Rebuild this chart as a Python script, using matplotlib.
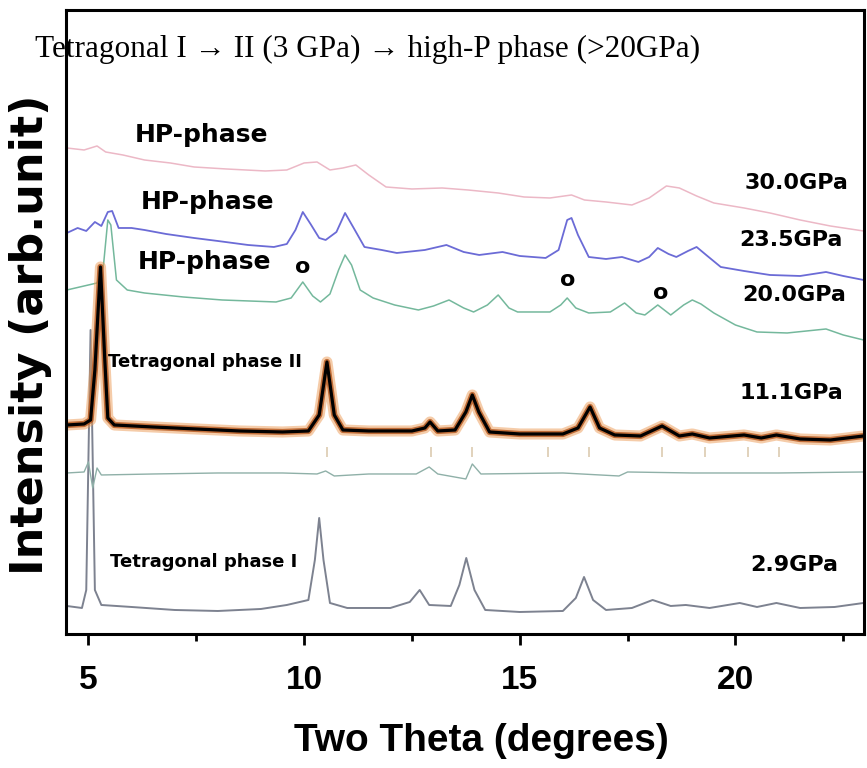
import matplotlib
matplotlib.use("Agg")
import matplotlib.pyplot as plt
import numpy as np

# two theta (deg) / intensity (arb.)
x_30 = [4.5, 4.9, 5.2, 5.4, 5.8, 6.3, 6.9, 7.45, 8.2, 9.1, 9.6, 10.0, 10.3, 10.6, 10.9, 11.2,
        11.5, 11.9, 12.5, 13.2, 13.8, 14.5, 15.1, 15.7, 16.2, 16.5, 17.0, 17.6, 18.0, 18.4,
        18.7, 19.1, 19.5, 20.2, 20.8, 21.5, 22.2, 22.97]
y_30 = [486, 484, 488, 482, 479, 474, 471, 467, 465, 463, 464, 471, 472, 464, 466, 469,
        459, 447, 445, 446, 444, 441, 437, 436, 439, 434, 432, 429, 436, 448,
        446, 438, 431, 426, 421, 414, 408, 403]

x_235 = [4.5, 4.75, 4.95, 5.15, 5.3, 5.45, 5.55, 5.7, 6.0, 6.3, 6.8, 7.45, 8.0, 8.7, 9.3, 9.6,
         9.8, 9.97, 10.15, 10.35, 10.5, 10.75, 10.95, 11.15, 11.4, 11.8, 12.15, 12.8, 13.3,
         13.7, 14.06, 14.6, 15.0, 15.6, 15.9, 16.1, 16.2, 16.35, 16.6, 17.0, 17.37, 17.75,
         18.0, 18.2, 18.45, 18.63, 18.9, 19.1, 19.35, 19.66, 20.2, 20.8, 21.5, 22.1, 22.5, 22.97]
y_235 = [401, 406, 403, 412, 408, 422, 423, 406, 406, 404, 400, 396, 393, 389, 387, 390,
         404, 422, 410, 396, 394, 402, 421, 406, 387, 384, 381, 384, 389,
         382, 379, 382, 378, 376, 384, 414, 416, 399, 377, 375, 377, 372,
         377, 386, 380, 377, 383, 387, 378, 367, 363, 359, 358, 362, 358, 354]

x_20 = [4.5, 4.9, 5.2, 5.35, 5.45, 5.52, 5.65, 5.9, 6.3, 7.2, 8.1, 9.35, 9.7, 9.97, 10.2,
        10.38, 10.6, 10.8, 10.95, 11.1, 11.3, 11.6, 12.1, 12.65, 13.0, 13.36, 13.7, 13.93,
        14.25, 14.5, 14.75, 14.95, 15.7, 15.95, 16.1, 16.3, 16.6, 17.1, 17.43, 17.7, 17.9,
        18.2, 18.5, 18.8, 19.0, 19.2, 19.5, 20.0, 20.5, 21.2, 22.1, 22.5, 22.97]
y_20 = [344, 348, 351, 369, 414, 409, 354, 344, 341, 337, 334, 332, 336, 352, 338,
        332, 340, 364, 379, 369, 344, 336, 329, 324, 328, 334, 326, 322,
        329, 339, 326, 322, 322, 329, 336, 326, 321, 322, 331, 321, 319,
        329, 319, 329, 334, 330, 321, 309, 302, 301, 305, 299, 294]

x_111 = [4.5, 4.9, 5.05, 5.15, 5.28, 5.38, 5.45, 5.6, 6.5, 7.5, 8.5, 9.5, 10.1, 10.35, 10.53,
         10.7, 10.9, 11.5, 12.5, 12.8, 12.92, 13.1, 13.5, 13.75, 13.9, 14.05, 14.3, 15.0,
         16.0, 16.35, 16.63, 16.85, 17.2, 17.8, 18.3, 18.7, 19.0, 19.4, 20.2, 20.6, 20.95,
         21.5, 22.2, 22.97]
y_111 = [209, 210, 214, 264, 367, 274, 216, 209, 207, 205, 203, 202, 203, 219, 272,
         219, 204, 203, 203, 206, 212, 203, 204, 222, 239, 222, 202, 200,
         200, 206, 227, 206, 199, 198, 208, 198, 200, 196, 199, 196, 199,
         195, 194, 198]

x_diff = [4.5, 4.9, 5.0, 5.1, 5.2, 5.3, 6.5, 8.0, 9.5, 10.3, 10.5, 10.7, 11.5, 12.6, 12.9,
          13.1, 13.75, 13.9, 14.1, 16.0, 17.3, 17.5, 19.0, 21.0, 22.97]
y_diff = [161, 162, 172, 146, 166, 159, 160, 161, 161, 160, 163, 158, 160, 160, 167,
          160, 155, 170, 160, 161, 158, 162, 161, 161, 162]

# reflection positions of tetragonal phase II
refl_111 = [10.53, 12.95, 13.9, 15.65, 16.6, 18.3, 19.3, 20.3, 21.0]

x_29 = [4.5, 4.85, 4.95, 5.05, 5.15, 5.3, 6.0, 7.0, 8.0, 9.0, 9.6, 10.1, 10.25, 10.35, 10.45,
        10.6, 11.0, 12.0, 12.45, 12.68, 12.9, 13.4, 13.6, 13.76, 13.95, 14.2, 15.0, 16.0,
        16.3, 16.49, 16.7, 17.0, 17.6, 18.08, 18.5, 18.85, 19.4, 20.1, 20.5, 20.95, 21.5,
        22.3, 22.97]
y_29 = [28, 26, 44, 304, 44, 29, 27, 24, 23, 25, 29, 34, 74, 116, 74,
        31, 26, 26, 32, 44, 29, 28, 49, 76, 44, 24, 22, 23,
        36, 57, 34, 24, 26, 34, 28, 29, 26, 31, 27, 31, 26,
        27, 31]

# HP-phase markers (o)
marker_x = [9.97, 16.1, 18.26]
marker_y = [367, 354, 341]

pressures = ['30.0GPa', '23.5GPa', '20.0GPa', '11.1GPa', '2.9GPa']
pressure_x = [22.63, 22.49, 22.56, 22.49, 22.38]
pressure_y = [451, 394, 339, 241, 69]

fig = plt.figure(figsize=(8.67, 7.68), dpi=100)
ax = fig.add_axes([0.0766, 0.1745, 0.9199, 0.8125])

ax.plot(x_30, y_30, color='#ecb8c6', lw=1.1)
ax.plot(x_235, y_235, color='#6b6bd6', lw=1.3)
ax.plot(x_20, y_20, color='#74b89c', lw=1.1)
ax.plot(x_29, y_29, color='#7d8290', lw=1.4)
ax.plot(x_diff, y_diff, color='#8fb0a8', lw=1.0)
ax.vlines(refl_111, 177, 187, color='#dccbb0', lw=1.2)
ax.plot(x_111, y_111, color='#ec9a55', lw=8, alpha=0.5, solid_capstyle='butt')
ax.plot(x_111, y_111, color='#b4561c', lw=4.5, alpha=0.8, solid_capstyle='butt')
ax.plot(x_111, y_111, color='black', lw=2.3)

for s, xx, yy in zip(pressures, pressure_x, pressure_y):
    ax.text(xx, yy, s, ha='right', va='center', fontsize=16, fontweight='bold',
            family='DejaVu Sans')

for yy, xx in zip([499, 432, 372], [6.08, 6.22, 6.15]):
    ax.text(xx, yy, 'HP-phase', ha='left', va='center', fontsize=18, fontweight='bold',
            family='DejaVu Sans')

ax.text(5.45, 272, 'Tetragonal phase II', ha='left', va='center', fontsize=13,
        fontweight='bold', family='DejaVu Sans')
ax.text(5.5, 72, 'Tetragonal phase I', ha='left', va='center', fontsize=13,
        fontweight='bold', family='DejaVu Sans')

for xx, yy in zip(marker_x, marker_y):
    ax.text(xx, yy, 'o', ha='center', va='center', fontsize=16, fontweight='bold',
            family='DejaVu Sans')

fig.text(0.04, 0.935, 'Tetragonal I \u2192 II (3 GPa) \u2192 high-P phase (>20GPa)',
         ha='left', va='center', fontsize=22.5, family=['Liberation Serif', 'DejaVu Serif'])

ax.set_xlim(4.49, 22.98)
ax.set_ylim(0, 624)
ax.set_yticks([])
ax.set_xticks([5, 10, 15, 20])
ax.set_xticks([7.5, 12.5, 17.5, 22.5], minor=True)
ax.tick_params(axis='x', which='major', length=8, width=2, pad=14, labelsize=24,
               direction='out')
ax.tick_params(axis='x', which='minor', length=5, width=2, direction='out')
for lab in ax.get_xticklabels():
    lab.set_fontweight('bold')
    lab.set_family('Liberation Sans')
for sp in ax.spines.values():
    sp.set_linewidth(2.2)

ax.set_xlabel('Two Theta (degrees)', fontsize=28, fontweight='bold',
              family='Liberation Sans', va='center')
ax.xaxis.set_label_coords(0.52, -0.172)
ax.set_ylabel('Intensity (arb.unit)', fontsize=32, fontweight='bold',
              family='DejaVu Sans', va='center')
ax.yaxis.set_label_coords(-0.045, 0.48)

fig.savefig('out.png', dpi=100)
